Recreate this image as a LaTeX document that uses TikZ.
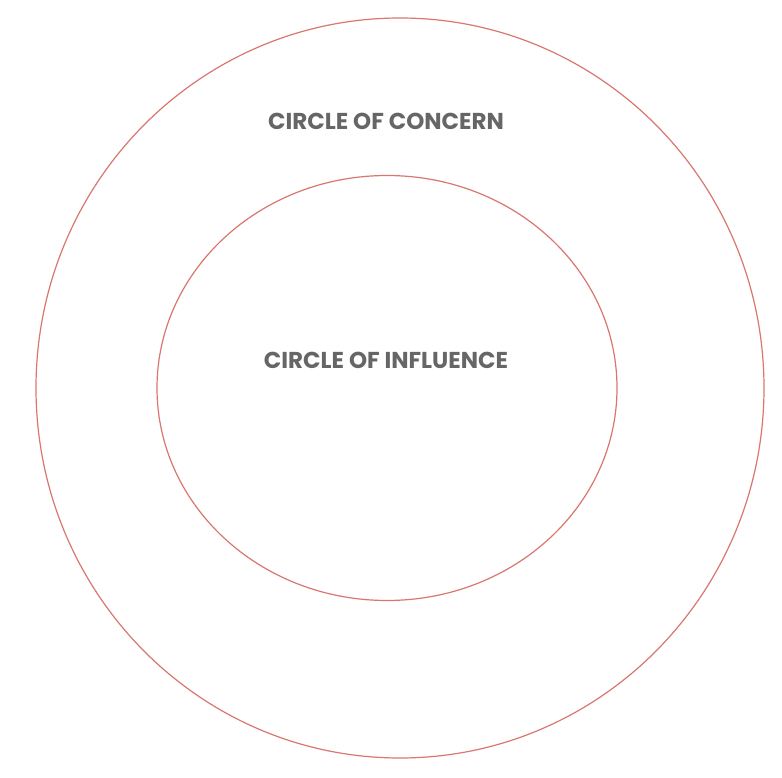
\documentclass[tikz,border=0pt]{standalone}
\usepackage{fontspec}
\usetikzlibrary{shapes.geometric}
\setmainfont{Poppins}
\definecolor{ring}{HTML}{D9766E}
\definecolor{txt}{HTML}{666666}
\tikzset{ringline/.style={draw=ring,line width=1.2pt},lbl/.style={text=txt,font=\bfseries\fontsize{23}{26}\selectfont}}
\begin{document}
\begin{tikzpicture}[x=1pt,y=-1pt]
\useasboundingbox (0,0) rectangle (782,778);
\node[ringline,ellipse,minimum width=728pt,minimum height=740pt,inner sep=0pt] (outer) at (400,388) {};
\node[ringline,ellipse,minimum width=460pt,minimum height=425pt,inner sep=0pt] (inner) at (387,388) {};
\node[lbl] (concern) at (386,121) {CIRCLE OF CONCERN};
\node[lbl] (influence) at (386,360) {CIRCLE OF INFLUENCE};
\end{tikzpicture}
\end{document}
